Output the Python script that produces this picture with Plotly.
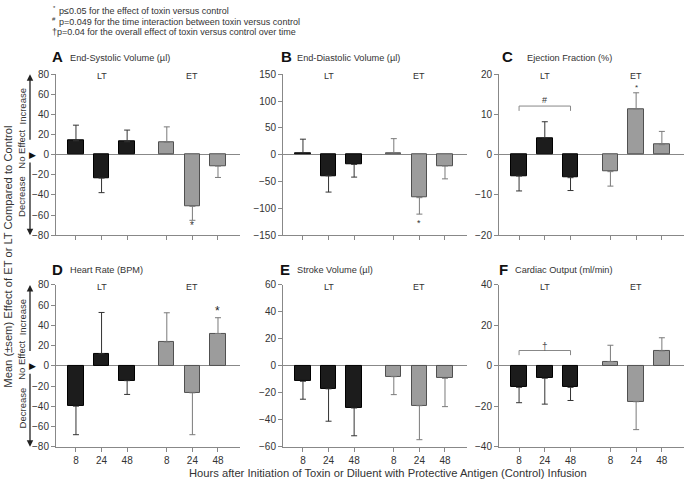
import plotly.graph_objects as go

W, H = 684, 486
FONT = "Arial, Liberation Sans, Helvetica, sans-serif"

# ---------------- data ----------------
hours = ["8", "24", "48"]
x_lt = [1, 2, 3]
x_et = [4.55, 5.55, 6.55]

titles = ["End-Systolic Volume (µl)", "End-Diastolic Volume (µl)", "Ejection Fraction (%)",
          "Heart Rate (BPM)", "Stroke Volume (µl)", "Cardiac Output (ml/min)"]
letters = ["A", "B", "C", "D", "E", "F"]

esv_lt = [13.9, -23.2, 12.9]
esv_lt_sem = [15.5, 14.5, 11.6]
esv_et = [12.3, -51.3, -11.3]
esv_et_sem = [15.4, 13.9, 11.3]

edv_lt = [3.6, -39.3, -18.0]
edv_lt_sem = [25.4, 30.3, 23.7]
edv_et = [3.6, -80.0, -21.0]
edv_et_sem = [26.4, 30.7, 24.0]

ef_lt = [-5.3, 4.2, -5.7]
ef_lt_sem = [3.7, 4.0, 3.2]
ef_et = [-4.2, 11.4, 2.5]
ef_et_sem = [3.6, 4.0, 3.3]

hr_lt = [-39.8, 12.0, -14.6]
hr_lt_sem = [28.2, 40.8, 13.6]
hr_et = [23.6, -26.6, 32.0]
hr_et_sem = [28.9, 41.4, 15.6]

sv_lt = [-11.4, -17.0, -31.2]
sv_lt_sem = [13.3, 24.0, 20.6]
sv_et = [-8.0, -29.5, -9.2]
sv_et_sem = [13.3, 25.2, 21.0]

co_lt = [-10.6, -6.1, -10.6]
co_lt_sem = [7.6, 12.8, 6.5]
co_et = [2.1, -17.7, 7.4]
co_et_sem = [8.1, 13.8, 6.5]

y_ranges = [(-80, 80, 20), (-150, 150, 50), (-20, 20, 10),
            (-80, 80, 20), (-60, 60, 20), (-40, 40, 20)]

panels = [
    (esv_lt, esv_lt_sem, esv_et, esv_et_sem),
    (edv_lt, edv_lt_sem, edv_et, edv_et_sem),
    (ef_lt, ef_lt_sem, ef_et, ef_et_sem),
    (hr_lt, hr_lt_sem, hr_et, hr_et_sem),
    (sv_lt, sv_lt_sem, sv_et, sv_et_sem),
    (co_lt, co_lt_sem, co_et, co_et_sem),
]

notes = ["p≤0.05 for the effect of toxin versus control",
         "p=0.049 for the time interaction between toxin versus control",
         "†p=0.04 for the overall effect of toxin versus control over time"]
note_marks = ["*", "#", ""]

# ---------------- layout geometry (pixels) ----------------
col_px = [(56, 240), (283, 467), (499, 684)]
row_px = [(70, 235), (286, 452)]

def px_x(p):
    return p / W

def px_y(p):
    return 1 - p / H

fig = go.Figure()

def one_sided(vals, sem):
    plus = [s if v >= 0 else 0 for v, s in zip(vals, sem)]
    minus = [0 if v >= 0 else s for v, s in zip(vals, sem)]
    return plus, minus

layout = dict(
    width=W, height=H,
    margin=dict(l=0, r=0, t=0, b=0),
    paper_bgcolor="white", plot_bgcolor="white",
    showlegend=False,
    font=dict(family=FONT, color="#333333"),
    bargap=0,
)

annotations = []
shapes = []

def ann(**kw):
    kw.setdefault("showarrow", False)
    kw.setdefault("xanchor", "center")
    kw.setdefault("yanchor", "middle")
    annotations.append(kw)

for i in range(6):
    r, c = divmod(i, 3)
    n = i + 1
    xa = "x" if n == 1 else f"x{n}"
    ya = "y" if n == 1 else f"y{n}"
    lt, lt_sem, et, et_sem = panels[i]

    p, m = one_sided(lt, lt_sem)
    fig.add_trace(go.Bar(
        x=x_lt, y=lt, width=0.6, xaxis=xa, yaxis=ya,
        marker=dict(color="#1c1c1c", line=dict(color="#000000", width=1)),
        error_y=dict(type="data", symmetric=False, array=p, arrayminus=m,
                     color="#333333", thickness=1, width=3),
    ))
    p, m = one_sided(et, et_sem)
    fig.add_trace(go.Bar(
        x=x_et, y=et, width=0.6, xaxis=xa, yaxis=ya,
        marker=dict(color="#9c9c9c", line=dict(color="#505050", width=1)),
        error_y=dict(type="data", symmetric=False, array=p, arrayminus=m,
                     color="#7a7a7a", thickness=1, width=3),
    ))

    x0, x1 = col_px[c]
    y0, y1 = row_px[r]
    lo, hi, dt = y_ranges[i]
    key_x = "xaxis" if n == 1 else f"xaxis{n}"
    key_y = "yaxis" if n == 1 else f"yaxis{n}"
    layout[key_x] = dict(
        domain=[px_x(x0), px_x(x1)], anchor=ya, range=[0.22, 7.41],
        tickvals=x_lt + x_et, ticktext=hours + hours,
        showticklabels=(r == 1), ticks="outside", ticklen=4, tickcolor="#888888",
        showline=True, linecolor="#888888", linewidth=1, showgrid=False, zeroline=False,
        tickfont=dict(size=10, color="#333333"), fixedrange=True,
    )
    layout[key_y] = dict(
        domain=[px_y(y1), px_y(y0)], anchor=xa, range=[lo, hi], dtick=dt, tick0=0,
        ticks="outside", ticklen=4, tickcolor="#888888",
        showline=True, linecolor="#888888", linewidth=1, showgrid=False,
        zeroline=True, zerolinecolor="#888888", zerolinewidth=1,
        tickfont=dict(size=10, color="#333333"), fixedrange=True,
    )

    # LT / ET group labels
    for gx, lab in ((2, "LT"), (5.55, "ET")):
        ann(x=gx, y=px_y(y0 + 2), xref=xa, yref="paper", text=lab,
            font=dict(size=9, color="#333333"))

# panel titles
title_letter_x = [50, 279, 500, 50, 278, 497]
title_text_x = [68, 295, 525, 68, 295, 513]
title_y = [52, 52, 52, 270, 270, 270]
for i in range(6):
    ann(x=px_x(title_letter_x[i]), y=px_y(title_y[i]), xref="paper", yref="paper",
        text=f"<b>{letters[i]}</b>", xanchor="left", font=dict(size=15, color="#111111"))
    ann(x=px_x(title_text_x[i]), y=px_y(title_y[i] + 1), xref="paper", yref="paper",
        text=titles[i], xanchor="left", font=dict(size=9.2, color="#333333"))

# significance stars
ann(x=x_et[1], y=-70, xref="x", yref="y", text="*", font=dict(size=10, color="#333333"))
ann(x=x_et[1], y=-127, xref="x2", yref="y2", text="*", font=dict(size=9, color="#333333"))
ann(x=x_et[1], y=16.8, xref="x3", yref="y3", text="*", font=dict(size=8, color="#333333"))
ann(x=x_et[2], y=54, xref="x4", yref="y4", text="*", font=dict(size=12, color="#222222"))

# brackets
shapes.append(dict(type="path", xref="x3", yref="y3",
                   path=f"M {x_lt[0]},10.9 L {x_lt[0]},12.1 L {x_lt[2]},12.1 L {x_lt[2]},10.9",
                   line=dict(color="#888888", width=1)))
ann(x=x_lt[1], y=13.7, xref="x3", yref="y3", text="#", font=dict(size=9, color="#333333"))
shapes.append(dict(type="path", xref="x6", yref="y6",
                   path=f"M {x_lt[0]},5.3 L {x_lt[0]},7.6 L {x_lt[2]},7.6 L {x_lt[2]},5.3",
                   line=dict(color="#888888", width=1)))
ann(x=x_lt[1], y=9.6, xref="x6", yref="y6", text="†", font=dict(size=10, color="#555555"))

# side indicators for panels A and D
for yref, ppu in (("y", 165 / 160), ("y4", 166 / 160)):
    ann(x=px_x(30), y=80, xref="paper", yref=yref, text="", showarrow=True,
        ax=0, ay=(80 - 15) * ppu, axref="pixel", ayref="pixel",
        arrowhead=2, arrowsize=1, arrowwidth=1.3, arrowcolor="#222222", standoff=0)
    ann(x=px_x(30), y=-80, xref="paper", yref=yref, text="", showarrow=True,
        ax=0, ay=-(80 - 8) * ppu, axref="pixel", ayref="pixel",
        arrowhead=2, arrowsize=1, arrowwidth=1.3, arrowcolor="#222222", standoff=0)
    ann(x=px_x(32), y=0, xref="paper", yref=yref, text="▶", font=dict(size=9, color="#111111"))
    ann(x=px_x(22), y=48, xref="paper", yref=yref, text="Increase", textangle=-90,
        font=dict(size=9.5, color="#333333"))
    ann(x=px_x(22), y=5, xref="paper", yref=yref, text="No Effect", textangle=-90,
        font=dict(size=9.5, color="#333333"))
    ann(x=px_x(22), y=-42, xref="paper", yref=yref, text="Decrease", textangle=-90,
        font=dict(size=9.5, color="#333333"))

# axis titles
ann(x=px_x(8), y=px_y(257), xref="paper", yref="paper",
    text="Mean (±sem) Effect of ET or LT Compared to Control", textangle=-90,
    font=dict(size=11.2, color="#333333"))
ann(x=px_x(388), y=px_y(479), xref="paper", yref="paper",
    text="Hours after Initiation of Toxin or Diluent with Protective Antigen (Control) Infusion",
    font=dict(size=11.2, color="#333333"))

# header notes
note_y = [5, 16.5, 27]
note_x = [57, 57, 50]
for txt, mark, yy, xx in zip(notes, note_marks, note_y, note_x):
    ann(x=px_x(xx), y=px_y(yy), xref="paper", yref="paper", text=txt, xanchor="left",
        font=dict(size=9, color="#333333"))
    if mark:
        ann(x=px_x(54), y=px_y(yy - 3), xref="paper", yref="paper", text=mark,
            font=dict(size=6, color="#333333"))

layout["annotations"] = annotations
layout["shapes"] = shapes
fig.update_layout(**layout)
fig.write_html("out.html", config={"displayModeBar": False},
               post_script="document.body.style.margin='0px';")
